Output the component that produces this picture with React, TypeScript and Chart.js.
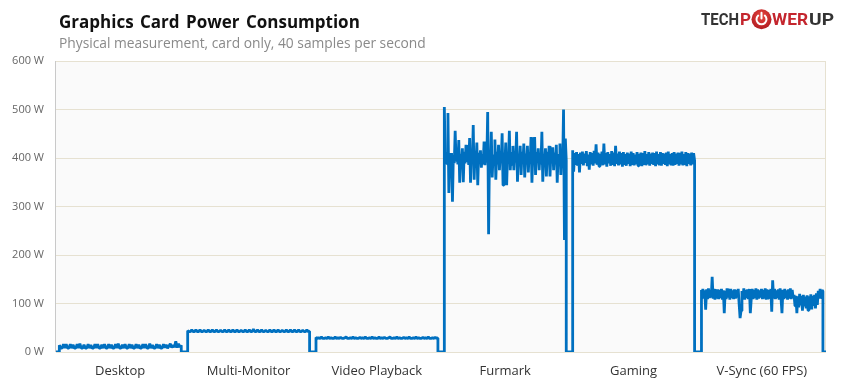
import React, { useEffect, useRef } from "react";
import { Chart, registerables } from "chart.js";

Chart.register(...registerables);

const CATEGORIES = ["Desktop", "Multi-Monitor", "Video Playback", "Furmark", "Gaming", "V-Sync (60 FPS)"];
const Y_MAX = 600;
const Y_STEP = 100;

const DESKTOP = [14, 8, 8, 16, 8, 16, 8, 8, 16, 8, 15, 8, 8, 16, 8, 17, 8, 8, 15, 8, 8, 16, 8, 14, 8, 8, 16, 8, 16, 8, 8, 15, 8, 16, 8, 8, 16, 8, 15, 8, 8, 16, 8, 17, 8, 8, 15, 8, 16, 8, 8, 16, 8, 15, 8, 8, 16, 8, 15, 8, 8, 16, 8, 16, 8, 8, 17, 8, 14, 8, 8, 16, 8, 15, 8, 8, 16, 9, 15, 8, 12, 17, 9, 14, 10, 22, 9, 17, 10, 14];
const MULTI_MONITOR = [44, 42, 42, 46, 42, 42, 46, 42, 42, 46, 42, 42, 45, 42, 42, 46, 42, 42, 46, 42, 42, 46, 42, 42, 45, 42, 42, 46, 42, 42, 46, 42, 42, 46, 42, 42, 46, 42, 42, 45, 42, 42, 46, 42, 42, 46, 42, 42, 47, 42, 42, 46, 42, 42, 46, 42, 42, 45, 42, 42, 46, 42, 42, 46, 42, 42, 46, 42, 42, 45, 42, 42, 46, 42, 42, 46, 42, 42, 46, 42, 42, 46, 42, 42, 45, 42, 42, 46, 42, 43];
const VIDEO_PLAYBACK = [30, 28, 29, 28, 31, 28, 28, 29, 28, 31, 28, 29, 28, 28, 31, 28, 29, 28, 30, 28, 28, 29, 31, 28, 28, 29, 28, 31, 28, 29, 28, 28, 30, 28, 29, 28, 31, 28, 28, 29, 28, 31, 28, 29, 28, 28, 31, 28, 29, 28, 30, 28, 28, 29, 31, 28, 28, 29, 28, 31, 28, 29, 28, 28, 30, 28, 29, 28, 31, 28, 28, 29, 28, 31, 28, 29, 28, 28, 30, 28, 29, 28, 31, 28, 28, 29, 28, 30, 28, 29];
const FURMARK = [
  505, 395, 412, 388, 493, 328, 410, 392, 410, 310, 406, 389, 456, 395, 411, 387,
  437, 349, 408, 392, 420, 350, 413, 389, 427, 392, 407, 386, 441, 349, 412, 391,
  468, 355, 409, 388, 432, 344, 411, 390, 416, 380, 408, 387, 434, 385, 412, 391,
  495, 243, 410, 388, 454, 360, 407, 390, 438, 355, 413, 387, 427, 375, 409, 392,
  451, 344, 411, 388, 432, 344, 408, 390, 456, 375, 412, 387, 425, 375, 410, 391,
  454, 351, 407, 388, 425, 365, 413, 390, 430, 360, 409, 387, 425, 370, 411, 392,
  443, 349, 408, 388, 443, 365, 412, 390, 420, 375, 410, 387, 454, 351, 407, 391,
  420, 362, 413, 388, 425, 362, 409, 390, 422, 375, 411, 387, 427, 349, 408, 392,
  430, 365, 412, 388, 500, 231, 440, 395,
];
const GAMING = [
  416, 372, 410, 386, 412, 384, 408, 370, 411, 388, 413, 385, 409, 390, 414, 383,
  407, 376, 412, 387, 410, 384, 415, 389, 428, 386, 411, 383, 409, 388, 413, 385,
  430, 387, 410, 382, 412, 389, 408, 384, 414, 386, 411, 383, 425, 388, 409, 385,
  413, 387, 410, 382, 412, 386, 408, 384, 411, 388, 409, 383, 413, 386, 410, 385,
  407, 387, 412, 384, 409, 388, 411, 383, 410, 386, 414, 385, 408, 387, 412, 384,
  409, 388, 411, 386, 410, 383, 413, 387, 408, 385, 412, 384, 410, 388, 409, 386,
  411, 383, 413, 387, 408, 385, 410, 384, 412, 386, 409, 388, 411, 384, 410, 387,
  413, 385, 408, 386, 412, 383, 410, 388, 409, 385, 411, 387, 410, 395,
];
const VSYNC = [
  128, 108, 130, 110, 127, 87, 129, 109, 131, 111, 128, 112, 155, 110, 130, 108,
  127, 110, 129, 109, 128, 111, 130, 108, 127, 80, 126, 109, 131, 112, 128, 108,
  130, 111, 127, 109, 129, 110, 128, 112, 130, 98, 70, 85, 126, 110, 131, 108,
  128, 111, 129, 109, 130, 80, 110, 130, 109, 128, 111, 131, 108, 129, 110, 127,
  112, 130, 109, 128, 110, 131, 108, 129, 111, 128, 110, 130, 83, 148, 110, 130,
  109, 127, 111, 129, 108, 131, 110, 80, 128, 109, 130, 111, 127, 108, 129, 110,
  131, 109, 128, 112, 118, 95, 116, 80, 115, 92, 120, 96, 116, 85, 118, 94,
  114, 90, 117, 86, 115, 93, 119, 88, 116, 95, 118, 90, 121, 97, 126, 110,
  130, 112, 128, 125,
];

const SEGMENTS = [DESKTOP, MULTI_MONITOR, VIDEO_PLAYBACK, FURMARK, GAMING, VSYNC];
const LEAD = 0.026;
const TRAIL = 0.024;

function buildSeries() {
  const pts: { x: number; y: number }[] = [];
  SEGMENTS.forEach((seg, i) => {
    const start = i + LEAD;
    const end = i + 1 - TRAIL;
    pts.push({ x: i, y: 0 }, { x: start, y: 0 });
    seg.forEach((v, k) => pts.push({ x: start + ((end - start) * k) / (seg.length - 1), y: v }));
    pts.push({ x: end, y: 0 });
  });
  pts.push({ x: SEGMENTS.length, y: 0 });
  return pts;
}

const GRID = "#e6e1d1";
const FONT = "'Open Sans', 'Noto Sans', sans-serif";

const plotFrame = {
  id: "plotFrame",
  beforeDraw(chart: any) {
    const { ctx, chartArea: a } = chart;
    ctx.save();
    ctx.fillStyle = "#fafafa";
    ctx.fillRect(a.left, a.top, a.right - a.left, a.bottom - a.top);
    ctx.restore();
  },
  beforeDatasetsDraw(chart: any) {
    const { ctx, chartArea: a } = chart;
    ctx.save();
    ctx.lineWidth = 1;
    ctx.strokeStyle = GRID;
    ctx.beginPath();
    ctx.moveTo(Math.round(a.right) - 0.5, a.top);
    ctx.lineTo(Math.round(a.right) - 0.5, a.bottom);
    ctx.stroke();
    ctx.strokeStyle = "#c9c9c9";
    ctx.beginPath();
    ctx.moveTo(Math.round(a.left) - 0.5, a.top);
    ctx.lineTo(Math.round(a.left) - 0.5, a.bottom);
    ctx.stroke();
    ctx.restore();
  },
};

function Logo() {
  return (
    <svg width={140} height={32} style={{ position: "absolute", left: 700, top: 4 }}>
      <defs>
        <radialGradient id="pg" cx="50%" cy="35%" r="65%">
          <stop offset="0%" stopColor="#e8473f" />
          <stop offset="100%" stopColor="#b11c22" />
        </radialGradient>
      </defs>
      <g fontFamily="Roboto, 'Liberation Sans', sans-serif" fontWeight="bold" fontSize={17}>
        <text x={1} y={21} textLength={38} lengthAdjust="spacingAndGlyphs" fill="#333333">TECH</text>
        <text x={40} y={21} textLength={11} lengthAdjust="spacingAndGlyphs" fill="#c4262e">P</text>
        <text x={72} y={21} textLength={36} lengthAdjust="spacingAndGlyphs" fill="#c4262e">WER</text>
        <text x={109} y={21} textLength={25} lengthAdjust="spacingAndGlyphs" fill="#333333">UP</text>
      </g>
      <circle cx={61.5} cy={15.3} r={10} fill="url(#pg)" />
      <path d="M 58.2 11.6 A 5 5 0 1 0 64.8 11.6" fill="none" stroke="#fff" strokeWidth={2} strokeLinecap="round" />
      <line x1={61.5} y1={8.8} x2={61.5} y2={14.5} stroke="#fff" strokeWidth={2} strokeLinecap="round" />
    </svg>
  );
}

export default function App() {
  const ref = useRef<HTMLCanvasElement | null>(null);

  useEffect(() => {
    if (!ref.current) return;
    const chart = new Chart(ref.current, {
      type: "line",
      data: {
        datasets: [
          {
            data: buildSeries(),
            borderColor: "#0070c0",
            borderWidth: 2.8,
            borderJoinStyle: "bevel",
            pointRadius: 0,
            tension: 0,
            fill: false,
            xAxisID: "x",
            yAxisID: "y",
          },
        ],
      },
      options: {
        animation: false,
        responsive: false,
        devicePixelRatio: 1,
        events: [],
        layout: { padding: { left: 8, right: 15, top: 61, bottom: 0 } },
        plugins: { legend: { display: false }, tooltip: { enabled: false }, title: { display: false } },
        scales: {
          x: { type: "linear", min: 0, max: SEGMENTS.length, display: false },
          x2: {
            type: "category",
            labels: CATEGORIES,
            position: "bottom",
            offset: true,
            grid: { display: false, drawTicks: false },
            border: { display: false },
            ticks: { color: "#333333", font: { family: FONT, size: 13 }, padding: 11, maxRotation: 0, autoSkip: false },
            afterFit: (s: any) => {
              s.height = 35;
            },
          },
          y: {
            min: 0,
            max: Y_MAX,
            border: { display: false },
            grid: { color: GRID, drawTicks: false, lineWidth: 1 },
            ticks: {
              stepSize: Y_STEP,
              color: "#666666",
              font: { family: FONT, size: 11 },
              padding: 12,
              callback: (v: any) => `${v} W`,
            },
            afterFit: (s: any) => {
              s.width = 48;
            },
          },
        },
      },
      plugins: [plotFrame],
    });
    return () => chart.destroy();
  }, []);

  return (
    <div style={{ position: "fixed", left: 0, top: 0, width: 841, height: 387, background: "#fff", overflow: "hidden" }}>
      <canvas ref={ref} width={841} height={387} style={{ position: "absolute", left: 0, top: 0, width: 841, height: 387 }} />
      <div
        style={{
          position: "absolute",
          left: 59,
          top: 13,
          fontFamily: FONT,
          fontWeight: 700,
          fontSize: 17,
          lineHeight: 1,
          wordSpacing: 2,
          color: "#111",
          whiteSpace: "nowrap",
        }}
      >
        Graphics Card Power Consumption
      </div>
      <div
        style={{
          position: "absolute",
          left: 59,
          top: 36,
          fontFamily: FONT,
          fontSize: 13.8,
          lineHeight: 1,
          color: "#8a8a8a",
          whiteSpace: "nowrap",
        }}
      >
        Physical measurement, card only, 40 samples per second
      </div>
      <Logo />
    </div>
  );
}
